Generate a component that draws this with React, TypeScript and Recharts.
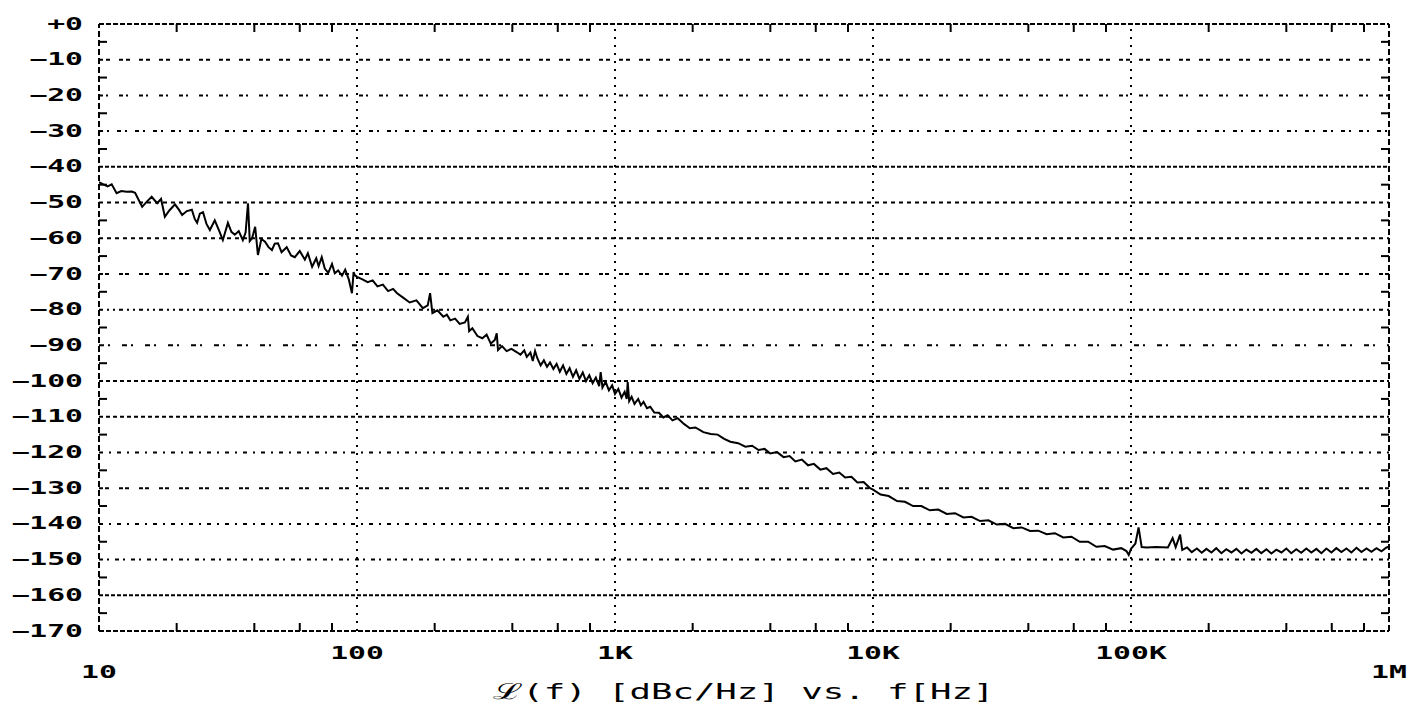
import { LineChart, Line, XAxis, YAxis, ReferenceLine } from "recharts";

const INK = "#000";
const MONO = "'DejaVu Sans Mono', monospace";

// offset frequency [Hz] / phase noise [dBc/Hz]
const FREQ_10_100 = [
  10, 10.3, 10.8, 11.2, 11.7, 12.2, 12.8, 13.4, 13.8, 14.3, 14.7, 15.3, 16, 16.8, 17.4, 18, 18.7, 19.7,
  20.4, 21, 21.9, 22.9, 23.5, 24, 24.6, 25.3, 26.1, 26.9, 28.1, 29.1, 30.2, 31.6, 32.6, 33.6, 34.8, 36.1,
  37, 37.8, 38.4, 39.2, 40.3, 41.3, 42.6, 44, 45.4, 46.8, 48, 49.4, 51, 53.4, 55.5, 57.4, 60, 62.8, 64.5,
  67, 69.5, 71, 73, 75, 77.4, 80, 82, 84.5, 87.5, 90, 93, 95.6, 97, 98, 100,
];
const DBC_10_100 = [
  -44.3, -44.8, -45.5, -44.9, -47.4, -46.8, -47.0, -46.9, -47.3, -49.5, -51.2, -49.8, -48.4, -50.2, -49.0, -54.0, -52.3, -50.5,
  -52.0, -53.5, -52.4, -52.0, -54.6, -55.7, -53.1, -52.7, -56.0, -57.7, -55.0, -57.6, -60.5, -55.7, -58.2, -59.0, -58.0, -60.5,
  -58.4, -50.2, -60.8, -60.0, -56.8, -64.7, -60.2, -61.0, -62.5, -63.3, -61.5, -61.4, -63.9, -62.5, -64.8, -65.3, -63.6, -66.0, -64.2,
  -68.0, -65.6, -67.8, -65.3, -68.5, -69.7, -67.2, -69.8, -69.0, -70.5, -68.8, -71.6, -75.4, -69.5, -70.3, -70.8,
];

const FREQ_100_500 = [
  105, 110, 115, 120, 126, 132, 138, 143, 150, 160, 170, 180, 188, 192, 196, 205, 216, 223, 230, 240,
  250, 262, 269, 272, 280, 293, 306, 318, 330, 342, 348, 352, 365, 380, 397, 414, 430, 445, 455, 470,
  480, 490,
];
const DBC_100_500 = [
  -71.5, -72.3, -71.8, -73.5, -73.0, -74.8, -74.2, -75.4, -76.5, -78.0, -77.4, -79.6, -78.8, -75.4, -81.0, -80.2, -82.0, -81.4, -83.0, -82.5,
  -84.0, -83.6, -82.0, -86.0, -85.2, -87.4, -88.0, -87.0, -89.5, -88.5, -86.6, -91.3, -90.2, -91.6, -91.0, -91.8, -92.6, -91.4, -93.2, -92.0,
  -94.4, -91.6,
];

const FREQ_500_1K = [
  500, 515, 530, 545, 560, 577, 594, 611, 629, 648, 667, 687, 707, 728, 750, 772, 795, 819, 843, 868,
  880, 894, 920, 947, 975,
];
const DBC_500_1K = [
  -93.6, -95.6, -94.2, -96.0, -94.8, -96.6, -95.2, -97.4, -95.6, -98.0, -96.4, -98.8, -97.0, -99.4, -97.6, -100.0, -98.4, -100.6, -99.0, -101.4,
  -97.5, -101.8, -100.2, -102.6, -101.2,
];

const FREQ_1K_3K = [
  1000, 1030, 1060, 1090, 1110, 1120, 1135, 1160, 1190, 1230, 1260, 1290, 1330, 1370, 1420, 1480, 1540, 1600, 1670, 1750,
  1850, 1950, 2050, 2200, 2350, 2500, 2650, 2800,
];
const DBC_1K_3K = [
  -103.6, -102.2, -104.6, -103.0, -105.0, -100.3, -105.6, -104.4, -106.4, -105.0, -106.8, -105.8, -107.6, -107.2, -108.8, -108.9, -110.2, -109.6, -111.0, -110.4,
  -112.0, -113.2, -113.0, -114.3, -114.8, -115.0, -116.2, -117.0,
];

const FREQ_3K_10K = [
  3000, 3200, 3400, 3600, 3800, 4000, 4250, 4500, 4750, 5000, 5300, 5600, 5900, 6250, 6600, 7000, 7400, 7800, 8250, 8700,
  9200, 9700,
];
const DBC_3K_10K = [
  -117.4, -118.4, -118.1, -119.3, -119.0, -120.3, -119.9, -121.3, -121.0, -122.5, -122.0, -123.6, -123.2, -124.8, -124.4, -126.0, -125.6, -127.0, -126.8, -128.4,
  -128.3, -129.9,
];

const FREQ_10K_100K = [
  10000, 10700, 11500, 12400, 13300, 14300, 15400, 16600, 17900, 19300, 20800, 22400, 24100, 26000, 28000, 30200, 32500, 35000, 37700, 40600,
  43700, 47100, 50700, 54600, 58800, 63300, 68200, 73400, 79100, 85200, 91700, 96000, 98000,
];
const DBC_10K_100K = [
  -130.4, -131.8, -132.2, -133.6, -133.8, -135.0, -135.0, -136.2, -136.0, -137.2, -137.0, -138.2, -138.0, -139.2, -139.0, -140.2, -140.0, -141.2, -141.0, -142.0,
  -141.9, -142.9, -142.6, -143.8, -143.6, -145.0, -145.0, -146.4, -146.2, -147.2, -146.8, -147.6, -148.7,
];

// spurs just above 100 kHz
const FREQ_SPURS = [100000, 104000, 107000, 110000, 115000, 125000, 139000, 145000, 149000, 155000, 158000];
const DBC_SPURS = [-147.0, -145.5, -141.0, -146.5, -146.6, -146.5, -146.6, -144.0, -146.5, -143.0, -147.3];

// noise floor up to 1 MHz
const FREQ_FLOOR = [
  165000, 172000, 180000, 188000, 196000, 205000, 214000, 224000, 234000, 245000, 256000, 268000, 280000, 293000, 306000,
  320000, 335000, 350000, 366000, 383000, 400000, 418000, 437000, 457000, 478000, 500000, 523000, 547000, 572000, 598000,
  625000, 654000, 684000, 715000, 748000, 782000, 818000, 855000, 894000, 935000, 978000, 1000000,
];
const DBC_FLOOR = [
  -146.6, -147.9, -146.9, -148.1, -147.0, -148.0, -146.8, -148.2, -147.1, -148.0, -147.0, -148.3, -147.2, -148.1, -147.0,
  -148.2, -147.1, -148.3, -147.2, -148.0, -146.9, -148.2, -147.1, -148.1, -146.9, -148.0, -147.0, -148.2, -146.9, -148.0,
  -146.8, -147.9, -146.9, -148.0, -146.7, -147.9, -146.9, -147.8, -146.8, -147.7, -146.6, -146.4,
];

const X_TICKS = [10, 100, 1000, 10000, 100000, 1000000];
const X_LABELS = ["10", "100", "1K", "10K", "100K", "1M"];
const X_MINOR = [20, 40, 60, 80, 200, 400, 600, 800, 2000, 4000, 6000, 8000, 20000, 40000, 60000, 80000, 200000, 400000, 600000, 800000];
const Y_TICKS = [0, -10, -20, -30, -40, -50, -60, -70, -80, -90, -100, -110, -120, -130, -140, -150, -160, -170];
const Y_MINOR = [-5, -15, -25, -35, -45, -55, -65, -75, -85, -95, -105, -115, -125, -135, -145, -155, -165];

// the plotter uses a different dot pattern on each horizontal grid line
const H_DASH: Record<number, string> = {
  [-10]: "4 3 4 9",
  [-20]: "4 3 2 11",
  [-30]: "4 4 2 8",
  [-40]: "4 2",
  [-50]: "4 4",
  [-60]: "4 4",
  [-70]: "4 2 4 10",
  [-80]: "4 4 2 4 2 4",
  [-90]: "5 4 2 12",
  [-100]: "4 3",
  [-110]: "4 3",
  [-120]: "4 6 2 6",
  [-130]: "4 2 4 10",
  [-140]: "4 6 2 6",
  [-150]: "4 4 2 6",
  [-160]: "4 2",
};

const SEGMENTS: [number[], number[]][] = [
  [FREQ_10_100, DBC_10_100],
  [FREQ_100_500, DBC_100_500],
  [FREQ_500_1K, DBC_500_1K],
  [FREQ_1K_3K, DBC_1K_3K],
  [FREQ_3K_10K, DBC_3K_10K],
  [FREQ_10K_100K, DBC_10K_100K],
  [FREQ_SPURS, DBC_SPURS],
  [FREQ_FLOOR, DBC_FLOOR],
];

const data = SEGMENTS.flatMap(([fs, ds]) =>
  fs.slice(0, Math.min(fs.length, ds.length)).map((f, i) => ({ f, dbc: ds[i] }))
);

function YTick(props: any) {
  const { x, y, payload } = props;
  const v = payload.value as number;
  const label = v === 0 ? "+0" : `\u2212${Math.abs(v)}`;
  return (
    <text
      transform={`translate(${x - 16} ${y}) scale(1.75 1)`}
      textAnchor="end"
      dominantBaseline="central"
      fontFamily={MONO}
      fontWeight="bold"
      fontSize={17}
      fill={INK}
    >
      {label}
    </text>
  );
}

function XTick(props: any) {
  const { x, y, payload } = props;
  const v = payload.value as number;
  const idx = X_TICKS.indexOf(v);
  const low = v === 10 || v === 1000000;
  return (
    <text
      transform={`translate(${x} ${y + (low ? 41 : 22)}) scale(1.75 1)`}
      textAnchor="middle"
      dominantBaseline="central"
      fontFamily={MONO}
      fontWeight="bold"
      fontSize={17}
      fill={INK}
    >
      {X_LABELS[idx] ?? String(v)}
    </text>
  );
}

const xMinorShape = (p: any) => {
  const top = Math.min(p.y1, p.y2);
  const bot = Math.max(p.y1, p.y2);
  return (
    <g>
      <line x1={p.x1} x2={p.x1} y1={top} y2={top + 8} stroke={INK} strokeWidth={2} />
      <line x1={p.x1} x2={p.x1} y1={bot - 8} y2={bot} stroke={INK} strokeWidth={2} />
    </g>
  );
};

const yMinorShape = (p: any) => {
  const l = Math.min(p.x1, p.x2);
  const r = Math.max(p.x1, p.x2);
  return (
    <g>
      <line x1={l} x2={l + 8} y1={p.y1} y2={p.y1} stroke={INK} strokeWidth={2} />
      <line x1={r - 8} x2={r} y1={p.y1} y2={p.y1} stroke={INK} strokeWidth={2} />
    </g>
  );
};

export default function App() {
  return (
    <div style={{ position: "absolute", left: 0, top: 0, width: 1423, height: 710, background: "#fff" }}>
      <LineChart
        width={1423}
        height={710}
        data={data}
        margin={{ top: 24, right: 34, bottom: 0, left: 0 }}
      >
        <XAxis
          dataKey="f"
          type="number"
          scale="log"
          domain={[10, 1000000]}
          ticks={X_TICKS}
          allowDataOverflow
          axisLine={false}
          tickLine={false}
          tickSize={0}
          tickMargin={0}
          height={79}
          interval={0}
          tick={<XTick />}
        />
        <YAxis
          type="number"
          domain={[-170, 0]}
          ticks={Y_TICKS}
          allowDataOverflow
          axisLine={false}
          tickLine={false}
          tickSize={0}
          tickMargin={0}
          width={99}
          interval={0}
          tick={<YTick />}
        />

        {Y_TICKS.filter((v) => v !== 0 && v !== -170).map((v) => (
          <ReferenceLine key={`h${v}`} y={v} stroke={INK} strokeWidth={2} strokeDasharray={H_DASH[v] ?? "4 4"} />
        ))}
        {X_TICKS.filter((v) => v !== 10 && v !== 1000000).map((v) => (
          <ReferenceLine key={`v${v}`} x={v} stroke={INK} strokeWidth={2} strokeDasharray="2 6" />
        ))}
        {X_MINOR.map((v) => (
          <ReferenceLine key={`xm${v}`} x={v} shape={xMinorShape} />
        ))}
        {Y_MINOR.map((v) => (
          <ReferenceLine key={`ym${v}`} y={v} shape={yMinorShape} />
        ))}

        <ReferenceLine y={0} stroke={INK} strokeWidth={2} strokeDasharray="5 2" />
        <ReferenceLine y={-170} stroke={INK} strokeWidth={2} strokeDasharray="5 2" />
        <ReferenceLine x={10} stroke={INK} strokeWidth={2} strokeDasharray="6 3" />
        <ReferenceLine x={1000000} stroke={INK} strokeWidth={2} strokeDasharray="6 3" />

        <Line
          type="linear"
          dataKey="dbc"
          stroke={INK}
          strokeWidth={2}
          dot={false}
          isAnimationActive={false}
        />
      </LineChart>
      <div
        style={{
          position: "absolute",
          left: 99,
          width: 1290,
          top: 681,
          textAlign: "center",
          fontFamily: MONO,
          fontSize: 22,
          lineHeight: "22px",
          color: INK,
          whiteSpace: "pre",
        }}
      >
        <span style={{ display: "inline-block", transform: "scaleX(1.62)" }}>
          {"\u2112(f) [dBc/Hz] vs. f[Hz]"}
        </span>
      </div>
    </div>
  );
}
